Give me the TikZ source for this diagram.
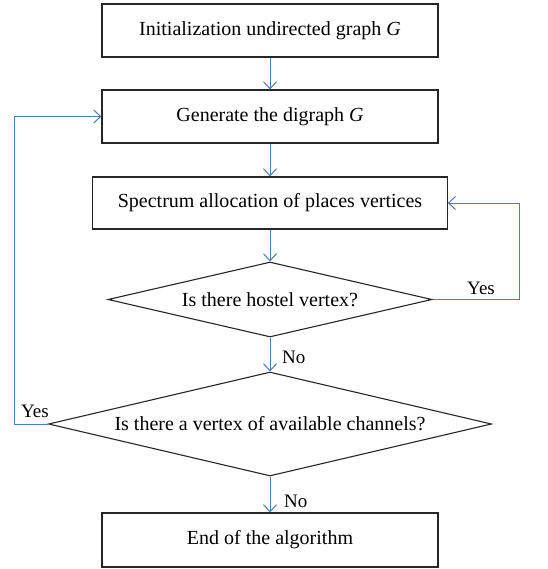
\documentclass[tikz,border=0pt]{standalone}
\usepackage{fontspec}
\setmainfont{Liberation Serif}
\usetikzlibrary{shapes.geometric,arrows.meta}
\definecolor{flowblue}{RGB}{74,126,187}
\definecolor{edgegray}{RGB}{38,38,38}
\begin{document}
\begin{tikzpicture}[x=1pt,y=-1pt,
  procbox/.style={draw=edgegray,line width=1.1pt,minimum width=336pt,minimum height=53pt,
    inner sep=0pt,font=\fontsize{20}{24}\selectfont},
  decision/.style={draw=edgegray,line width=1.1pt,diamond,inner sep=0pt,
    font=\fontsize{20}{24}\selectfont},
  flow/.style={draw=flowblue,line width=1pt,-{Straight Barb[length=7pt,width=13pt]}},
  lbl/.style={font=\fontsize{19}{22}\selectfont,inner sep=0pt}]
\useasboundingbox (0,0) rectangle (547,569);

% process boxes and decisions
\node[procbox] (init) at (270,30.5) {Initialization undirected graph \textit{G}};
\node[procbox] (gen) at (270,116.5) {Generate the digraph \textit{G}};
\node[procbox,minimum width=354.5pt,minimum height=52pt] (spec) at (270,203) {Spectrum allocation of places vertices};
\node[decision,aspect=4.32,minimum width=324pt,minimum height=75pt] (hostel) at (270,299.5) {Is there hostel vertex?};
\node[decision,aspect=4.26,minimum width=443pt,minimum height=104pt] (avail) at (270,424) {Is there a vertex of available channels?};
\node[procbox,minimum height=54pt] (finish) at (270,540) {End of the algorithm};

% main flow
\draw[flow] (init.south) -- (gen.north);
\draw[flow] (gen.south) -- (spec.north);
\draw[flow] (spec.south) -- (hostel.north);
\draw[flow] (hostel.south) -- (avail.north);
\draw[flow] (avail.south) -- (finish.north);

% feedback loops
\coordinate (rloop) at (519,299.5);
\coordinate (lloop) at (14,424);
\draw[flow] (hostel.east) -- (rloop) |- (spec.east);
\draw[flow] (avail.west) -- (lloop) |- (gen.west);

% branch labels
\node[lbl] (yesr) at (481,288) {Yes};
\node[lbl] (yesl) at (35,411) {Yes};
\node[lbl,anchor=west] (no1) at (282,357) {No};
\node[lbl,anchor=west] (no2) at (284,501) {No};
\end{tikzpicture}
\end{document}
